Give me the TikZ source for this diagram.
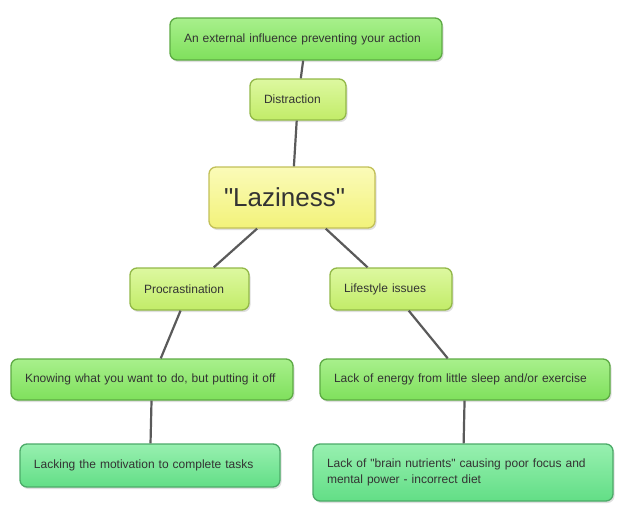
\documentclass[tikz,border=0pt]{standalone}
\usepackage{fontspec}
\setmainfont{Liberation Sans}[Ligatures=TeXOff]
\usepackage{tikz}
\usetikzlibrary{shadows,positioning}
\definecolor{txtgray}{HTML}{333333}
\definecolor{linkgray}{HTML}{5A5A5A}
\definecolor{leafgreen}{HTML}{7FE05C}
\definecolor{leafgreentop}{HTML}{A8F08C}
\definecolor{leafborder}{HTML}{5DAA44}
\definecolor{limegreen}{HTML}{C2EC68}
\definecolor{limegreentop}{HTML}{DDF8A0}
\definecolor{limeborder}{HTML}{92B848}
\definecolor{lazyyellow}{HTML}{F2F27A}
\definecolor{lazyyellowtop}{HTML}{FBFBB8}
\definecolor{lazyborder}{HTML}{C2C058}
\definecolor{mintgreen}{HTML}{62DE86}
\definecolor{mintgreentop}{HTML}{98F0B0}
\definecolor{mintborder}{HTML}{4CAA68}
\tikzset{
  box/.style={rounded corners=7pt, line width=1.3pt, align=left, inner xsep=14pt,
    inner ysep=0pt, text=txtgray, font=\fontsize{12}{16}\selectfont,
    drop shadow={opacity=0.25, shadow xshift=1.5pt, shadow yshift=-2pt}},
  leaf/.style={box, draw=leafborder, top color=leafgreentop, bottom color=leafgreen},
  lime/.style={box, draw=limeborder, top color=limegreentop, bottom color=limegreen},
  mint/.style={box, draw=mintborder, top color=mintgreentop, bottom color=mintgreen},
  link/.style={draw=linkgray, line width=2.2pt}
}
\begin{document}
\begin{tikzpicture}[x=1pt,y=-1pt]
  \useasboundingbox (0,0) rectangle (624,512);
  %Nodes
  \node[leaf, text width=244pt, minimum height=42pt] (influence) at (306,39) {An external influence preventing your action};
  \node[lime, text width=68pt, minimum height=41pt] (distraction) at (298,99.5) {Distraction};
  \node[box, draw=lazyborder, top color=lazyyellowtop, bottom color=lazyyellow,
        inner xsep=15pt, text width=136pt, minimum height=61pt,
        font=\fontsize{26}{30}\selectfont] (laziness) at (292,197.5) {"Laziness"};
  \node[lime, text width=91pt, minimum height=42pt] (procrastination) at (189.5,289) {Procrastination};
  \node[lime, text width=94pt, minimum height=42pt] (lifestyle) at (391,289) {Lifestyle issues};
  \node[leaf, text width=254pt, minimum height=41pt] (knowing) at (152,379.5) {Knowing what you want to do, but putting it off};
  \node[leaf, text width=262pt, minimum height=41pt] (energy) at (465,379.5) {Lack of energy from little sleep and/or exercise};
  \node[mint, text width=232pt, minimum height=43pt] (motivation) at (150,465.5) {Lacking the motivation to complete tasks};
  \node[mint, text width=272pt, minimum height=57pt] (nutrients) at (463,472.5) {Lack of "brain nutrients" causing poor focus and\\mental power - incorrect diet};
  %Edges
  \draw[link] (influence) -- (distraction);
  \draw[link] (distraction) -- (laziness);
  \draw[link] (laziness) -- (procrastination);
  \draw[link] (laziness) -- (lifestyle);
  \draw[link] (procrastination) -- (knowing);
  \draw[link] (lifestyle) -- (energy);
  \draw[link] (knowing) -- (motivation);
  \draw[link] (energy) -- (nutrients);
\end{tikzpicture}
\end{document}
